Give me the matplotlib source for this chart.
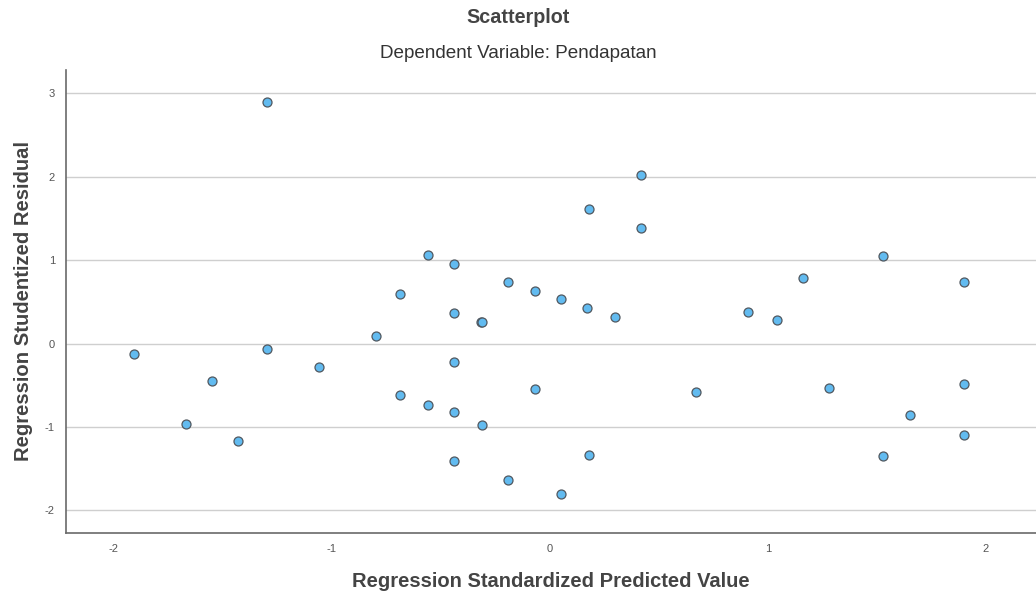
import matplotlib
matplotlib.use("Agg")
import matplotlib.pyplot as plt

plt.rcParams['font.family'] = ['Liberation Sans', 'DejaVu Sans']
plt.rcParams['axes.unicode_minus'] = False

# regression standardized predicted value vs studentized residual
pred = [-1.30, -1.91, -1.30, -1.55, -1.67, -1.43, -1.06,
        0.42, 0.18, 0.42, -0.56, -0.44, -0.19, -0.69, -0.07, 0.05,
        0.17, 0.30, -0.44, -0.316, -0.312, -0.80, -0.44, -0.69, -0.56,
        -0.44, -0.31, -0.07, -0.44, -0.19, 0.05, 0.18,
        1.53, 1.16, 1.90, 0.91, 1.04, 0.67, 1.28, 1.90, 1.65, 1.90, 1.53]
resid = [2.90, -0.13, -0.07, -0.45, -0.96, -1.17, -0.28,
         2.02, 1.61, 1.39, 1.06, 0.96, 0.74, 0.60, 0.63, 0.53,
         0.43, 0.32, 0.37, 0.26, 0.255, 0.09, -0.22, -0.62, -0.74,
         -0.82, -0.98, -0.54, -1.41, -1.64, -1.80, -1.34,
         1.05, 0.79, 0.74, 0.38, 0.28, -0.58, -0.53, -0.48, -0.86, -1.09, -1.35]

fig = plt.figure(figsize=(10.36, 5.98), dpi=100)
ax = fig.add_axes([0.0637, 0.1087, 0.9363, 0.7743])

ax.scatter(pred, resid, s=42, facecolor='#62bbf0', edgecolor='#505860',
           linewidth=0.9, zorder=3)

ax.set_xlim(-2.22, 2.23)
ax.set_ylim(-2.27, 3.28)
ax.set_xticks([-2, -1, 0, 1, 2])
ax.set_yticks([-2, -1, 0, 1, 2, 3])
ax.yaxis.grid(True, color='#cfcfcf', linewidth=1.0)
ax.set_axisbelow(True)
ax.tick_params(length=0, labelsize=8, labelcolor='#555555', pad=8)

for side in ['top', 'right']:
    ax.spines[side].set_visible(False)
for side in ['left', 'bottom']:
    ax.spines[side].set_color('#6a6a6a')
    ax.spines[side].set_linewidth(1.2)

ax.set_xlabel('Regression Standardized Predicted Value', fontsize=14.5,
              fontweight='bold', color='#444444', labelpad=13)
ax.set_ylabel('Regression Studentized Residual', fontsize=14.6,
              fontweight='bold', color='#444444', labelpad=8.5)

fig.text(0.5, 0.9615, 'Scatterplot', ha='center', va='baseline',
         fontsize=14.2, fontweight='bold', color='#444444')
fig.text(0.5, 0.903, 'Dependent Variable: Pendapatan', ha='center',
         va='baseline', fontsize=13.6, color='#333333')

fig.savefig('out.png', dpi=100)
